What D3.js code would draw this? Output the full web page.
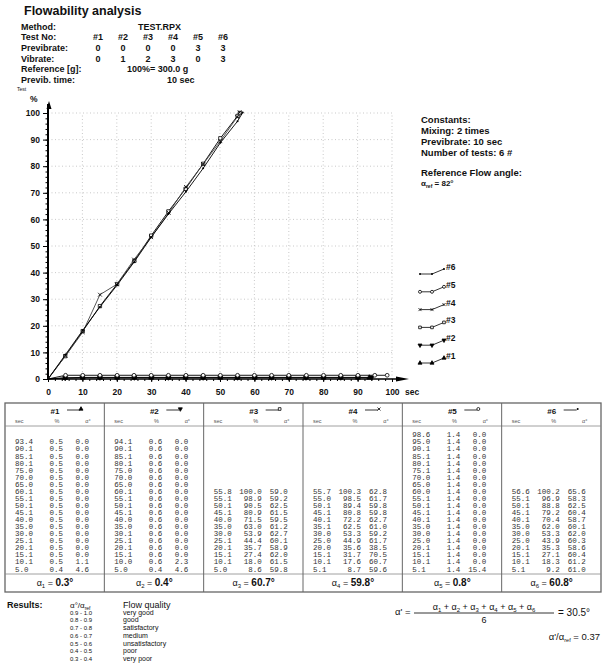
<!DOCTYPE html>
<html>
<head>
<meta charset="utf-8">
<script src="https://cdn.jsdelivr.net/npm/d3@7"></script>
<style>
body { margin: 0; background: #fff; }
svg { display: block; font-family: "Liberation Sans", Arial, sans-serif; }
.mono { font-family: "Liberation Mono", "DejaVu Sans Mono", monospace; }
</style>
</head>
<body>
<svg id="chart" width="603" height="666"></svg>
<script>
(function () {
'use strict';

// header / test setup
var seriesNames = ['#1', '#2', '#3', '#4', '#5', '#6'];
var markerTypes = ['triUp', 'triDown', 'square', 'times', 'circle', 'dot'];
var previbrate = [0, 0, 0, 0, 3, 3];
var vibrate = [0, 1, 2, 3, 0, 3];
var legendOrder = [5, 4, 3, 2, 1, 0];

// measured values, listed as in the print-out table (last time first)
var sec1 = [93.4, 90.1, 85.1, 80.1, 75.0, 70.0, 65.0, 60.1, 55.1, 50.1, 45.1, 40.0, 35.0, 30.0, 25.1, 20.1, 15.1, 10.1, 5.0];
var pct1 = [0.5, 0.5, 0.5, 0.5, 0.5, 0.5, 0.5, 0.5, 0.5, 0.5, 0.5, 0.5, 0.5, 0.5, 0.5, 0.5, 0.5, 0.5, 0.4];
var ang1 = [0.0, 0.0, 0.0, 0.0, 0.0, 0.0, 0.0, 0.0, 0.0, 0.0, 0.0, 0.0, 0.0, 0.0, 0.0, 0.0, 0.0, 1.1, 4.6];

var sec2 = [94.1, 90.1, 85.1, 80.1, 75.0, 70.0, 65.0, 60.1, 55.1, 50.1, 45.1, 40.0, 35.0, 30.1, 25.1, 20.1, 15.1, 10.0, 5.0];
var pct2 = [0.6, 0.6, 0.6, 0.6, 0.6, 0.6, 0.6, 0.6, 0.6, 0.6, 0.6, 0.6, 0.6, 0.6, 0.6, 0.6, 0.6, 0.6, 0.4];
var ang2 = [0.0, 0.0, 0.0, 0.0, 0.0, 0.0, 0.0, 0.0, 0.0, 0.0, 0.0, 0.0, 0.0, 0.0, 0.0, 0.0, 0.0, 2.3, 4.6];

var sec3 = [55.8, 55.1, 50.1, 45.1, 40.0, 35.0, 30.0, 25.1, 20.1, 15.1, 10.1, 5.0];
var pct3 = [100.0, 98.9, 90.5, 80.9, 71.5, 63.0, 53.9, 44.4, 35.7, 27.4, 18.0, 8.6];
var ang3 = [59.0, 59.2, 62.5, 61.5, 59.5, 61.2, 62.7, 60.1, 58.9, 62.0, 61.5, 59.8];

var sec4 = [55.7, 55.0, 50.1, 45.1, 40.1, 35.1, 30.0, 25.0, 20.0, 15.1, 10.1, 5.1];
var pct4 = [100.3, 98.5, 89.4, 80.8, 72.2, 62.5, 53.3, 44.9, 35.6, 31.7, 17.6, 8.7];
var ang4 = [62.8, 61.7, 59.8, 59.8, 62.7, 61.0, 59.2, 61.7, 38.5, 70.5, 60.7, 59.6];

var sec5 = [98.6, 95.0, 90.1, 85.1, 80.1, 75.1, 70.0, 65.0, 60.0, 55.1, 50.1, 45.1, 40.1, 35.0, 30.0, 25.0, 20.1, 15.1, 10.1, 5.1];
var pct5 = [1.4, 1.4, 1.4, 1.4, 1.4, 1.4, 1.4, 1.4, 1.4, 1.4, 1.4, 1.4, 1.4, 1.4, 1.4, 1.4, 1.4, 1.4, 1.4, 1.4];
var ang5 = [0.0, 0.0, 0.0, 0.0, 0.0, 0.0, 0.0, 0.0, 0.0, 0.0, 0.0, 0.0, 0.0, 0.0, 0.0, 0.0, 0.0, 0.0, 0.0, 15.4];

var sec6 = [56.6, 55.1, 50.1, 45.1, 40.1, 35.0, 30.0, 25.0, 20.1, 15.1, 10.1, 5.1];
var pct6 = [100.2, 96.9, 88.8, 79.2, 70.4, 62.0, 53.3, 43.9, 35.3, 27.1, 18.3, 9.2];
var ang6 = [65.6, 58.3, 62.5, 60.4, 58.7, 60.1, 62.0, 60.3, 58.6, 60.4, 61.2, 61.0];

var origin = [0, 0];
var alphas = [0.3, 0.4, 60.7, 59.8, 0.8, 60.8];
var alphaMean = 30.5;
var alphaRef = 82;
var alphaRatio = 0.37;

var qualityRanges = ['0.9 - 1.0', '0.8 - 0.9', '0.7 - 0.8', '0.6 - 0.7', '0.5 - 0.6', '0.4 - 0.5', '0.3 - 0.4'];
var qualityLabels = ['very good', 'good', 'satisfactory', 'medium', 'unsatisfactory', 'poor', 'very poor'];

var secs = [sec1, sec2, sec3, sec4, sec5, sec6];
var pcts = [pct1, pct2, pct3, pct4, pct5, pct6];
var angs = [ang1, ang2, ang3, ang4, ang5, ang6];

var svg = d3.select('#chart');
var fmt = d3.format('.1f');

function label(parent, x, y, str, size, anchor, weight) {
    return parent.append('text')
        .attr('x', x)
        .attr('y', y)
        .attr('font-size', size)
        .attr('text-anchor', anchor || 'start')
        .attr('font-weight', weight || 'normal')
        .attr('fill', '#111')
        .text(str);
}

// alpha with a small subscript, e.g. α1 or αref
function alphaSub(textSel, sub, subSize) {
    textSel.append('tspan').text('α');
    textSel.append('tspan').attr('font-size', subSize).attr('dy', 1.5).text(sub);
    return textSel.append('tspan').attr('dy', -1.5);
}

function drawMarker(parent, type, cx, cy, size) {
    size = size || 14;
    var g = parent.append('g').attr('transform', 'translate(' + cx + ',' + cy + ')');
    if (type === 'dot') {
        g.append('circle').attr('r', 1).attr('fill', '#000');
        return;
    }
    var sym = {
        triUp: d3.symbolTriangle,
        triDown: d3.symbolTriangle,
        square: d3.symbolSquare,
        times: d3.symbolTimes || d3.symbolX,
        circle: d3.symbolCircle
    }[type];
    var open = type === 'square' || type === 'circle' || type === 'times';
    g.append('path')
        .attr('d', d3.symbol(sym, size)())
        .attr('transform', type === 'triDown' ? 'rotate(180)' : null)
        .attr('fill', open ? '#fff' : '#000')
        .attr('stroke', '#000')
        .attr('stroke-width', 0.8);
}

// ---------- header ----------
label(svg, 24, 15, 'Flowability analysis', 12.5, 'start', 'bold');

var headX = d3.scaleLinear().domain([0, 5]).range([98, 223]);
var headY = d3.scaleLinear().domain([0, 5]).range([29.5, 83]);
var headLabels = ['Method:', 'Test No:', 'Previbrate:', 'Vibrate:', 'Reference [g]:', 'Previb. time:'];
headLabels.forEach(function (t, i) { label(svg, 21, headY(i), t, 9, 'start', 'bold'); });
label(svg, 138, headY(0), 'TEST.RPX', 9, 'start', 'bold');
seriesNames.forEach(function (n, i) {
    label(svg, headX(i), headY(1), n, 9, 'middle', 'bold');
    label(svg, headX(i), headY(2), previbrate[i], 9, 'middle', 'bold');
    label(svg, headX(i), headY(3), vibrate[i], 9, 'middle', 'bold');
});
label(svg, 127, headY(4), '100%=  300.0 g', 9, 'start', 'bold');
label(svg, 167, headY(5), '10 sec', 9, 'start', 'bold');

// ---------- chart ----------
var x = d3.scaleLinear().domain([0, 100]).range([48, 392]);
var y = d3.scaleLinear().domain([0, 100]).range([379, 113]);
var plot = svg.append('g');

plot.append('g').selectAll('line.vgrid')
    .data(d3.range(10, 101, 10))
    .enter().append('line')
    .attr('x1', x).attr('x2', x)
    .attr('y1', y(0)).attr('y2', y(100))
    .attr('stroke', '#bbb').attr('stroke-width', 0.8).attr('stroke-dasharray', '1,2.5');
plot.append('g').selectAll('line.hgrid')
    .data(d3.range(10, 101, 10))
    .enter().append('line')
    .attr('x1', x(0)).attr('x2', x(100))
    .attr('y1', y).attr('y2', y)
    .attr('stroke', '#bbb').attr('stroke-width', 0.8).attr('stroke-dasharray', '1,2.5');

// y axis: minor + major ticks
var yMinor = plot.append('g').attr('transform', 'translate(' + x(0) + ',0)')
    .call(d3.axisLeft(y).tickValues(d3.range(0, 101, 2)).tickSize(2.5).tickFormat(''));
var yMajor = plot.append('g').attr('transform', 'translate(' + x(0) + ',0)')
    .call(d3.axisLeft(y).tickValues(d3.range(0, 101, 10)).tickSize(5).tickPadding(3));
var xMinor = plot.append('g').attr('transform', 'translate(0,' + y(0) + ')')
    .call(d3.axisBottom(x).tickValues(d3.range(0, 101, 2)).tickSize(2).tickFormat(''));
var xMajor = plot.append('g').attr('transform', 'translate(0,' + y(0) + ')')
    .call(d3.axisBottom(x).tickValues(d3.range(0, 101, 10)).tickSize(3).tickPadding(7));
[yMinor, yMajor, xMinor, xMajor].forEach(function (a) {
    a.select('.domain').remove();
    a.selectAll('line').attr('stroke', '#000');
    a.selectAll('text').attr('font-size', 8.5).attr('font-weight', 'bold').attr('fill', '#111')
        .attr('font-family', '"Liberation Sans", Arial, sans-serif');
});

plot.append('line').attr('x1', x(0)).attr('x2', x(0)).attr('y1', y(0)).attr('y2', 104)
    .attr('stroke', '#000').attr('stroke-width', 2);
plot.append('path').attr('d', 'M49,101L46.5,109L51.5,109Z').attr('fill', '#000');
plot.append('line').attr('x1', x(0)).attr('x2', 400).attr('y1', y(0)).attr('y2', y(0))
    .attr('stroke', '#000').attr('stroke-width', 1.5);
plot.append('path').attr('d', 'M409,379L396,376.5L396,381.5Z').attr('fill', '#000');
label(svg, 405, 395, 'sec', 8.5, 'start', 'bold');
label(svg, 17, 91, 'Test', 5);
label(svg, 30, 102, '%', 8.5, 'start', 'bold');

var line = d3.line()
    .x(function (d) { return x(d[0]); })
    .y(function (d) { return y(d[1]); });

secs.forEach(function (s, k) {
    var pts = s.map(function (v, j) { return [v, pcts[k][j]]; })
        .sort(function (a, b) { return a[0] - b[0]; });
    plot.append('path')
        .datum([origin].concat(pts))
        .attr('d', line)
        .attr('fill', 'none')
        .attr('stroke', k === 3 ? '#444' : '#000')
        .attr('stroke-width', 0.9);
    pts.forEach(function (p) { drawMarker(plot, markerTypes[k], x(p[0]), y(p[1]), 11); });
});

// legend
var legY = d3.scaleLinear().domain([0, 5]).range([267, 356]);
legendOrder.forEach(function (k, i) {
    var ly = legY(i);
    var pts = [[420, ly + 7], [432, ly + 7], [444, ly + 2]];
    svg.append('path').datum(pts).attr('d', d3.line())
        .attr('fill', 'none').attr('stroke', '#000').attr('stroke-width', 0.8);
    pts.forEach(function (p) { drawMarker(svg, markerTypes[k], p[0], p[1], 7); });
    label(svg, 446, ly + 3, seriesNames[k], 8.5, 'start', 'bold');
});

// constants
label(svg, 421, 122.5, 'Constants:', 9.5, 'start', 'bold');
label(svg, 421, 133.5, 'Mixing:  2 times', 9.5, 'start', 'bold');
label(svg, 421, 144.5, 'Previbrate:  10 sec', 9.5, 'start', 'bold');
label(svg, 421, 155.5, 'Number of tests:  6 #', 9.5, 'start', 'bold');
label(svg, 421, 175.5, 'Reference Flow angle:', 9.5, 'start', 'bold');
var refT = label(svg, 421, 186, '', 8, 'start', 'bold');
alphaSub(refT, 'ref', 5).text(' = ' + alphaRef + '°');

// ---------- table ----------
var colX = d3.scaleLinear().domain([0, 6]).range([5, 601]);
var rowY = d3.scaleLinear().domain([0, 19]).range([569, 569 - 19 * 7.06]);
var table = svg.append('g');
var tTop = 403, tSub = 426, tAlpha = 574, tBottom = 592;

table.append('rect').attr('x', colX(0)).attr('y', tTop)
    .attr('width', colX(6) - colX(0)).attr('height', tBottom - tTop)
    .attr('fill', 'none').attr('stroke', '#666').attr('stroke-width', 1.3);
[tSub, tAlpha].forEach(function (ly) {
    table.append('line').attr('x1', colX(0)).attr('x2', colX(6)).attr('y1', ly).attr('y2', ly)
        .attr('stroke', '#888').attr('stroke-width', 0.8);
});
d3.range(1, 6).forEach(function (c) {
    table.append('line').attr('x1', colX(c)).attr('x2', colX(c)).attr('y1', tTop).attr('y2', tBottom)
        .attr('stroke', '#666').attr('stroke-width', 1);
});

seriesNames.forEach(function (n, k) {
    var x0 = colX(k);
    label(table, x0 + 50, 414, n, 8, 'middle', 'bold');
    table.append('line').attr('x1', x0 + 62).attr('x2', x0 + 75).attr('y1', 410).attr('y2', 410)
        .attr('stroke', '#000').attr('stroke-width', 0.8);
    drawMarker(table, markerTypes[k], x0 + 76, 409, 7);

    label(table, x0 + 10, 423, 'sec', 5.5).attr('fill', '#555');
    label(table, x0 + 52, 423, '%', 5.5, 'middle').attr('fill', '#555');
    label(table, x0 + 83, 423, 'α°', 5.5, 'middle').attr('fill', '#555');

    var n0 = secs[k].length;
    secs[k].forEach(function (s, j) {
        var ry = rowY(n0 - 1 - j) + 2.5;
        label(table, x0 + 10, ry, fmt(s), 7.5).attr('class', 'mono').attr('fill', '#333');
        label(table, x0 + 58, ry, fmt(pcts[k][j]), 7.5, 'end').attr('class', 'mono').attr('fill', '#333');
        label(table, x0 + 84, ry, fmt(angs[k][j]), 7.5, 'end').attr('class', 'mono').attr('fill', '#333');
    });

    var at = label(table, x0 + 50, 586, '', 9, 'middle');
    alphaSub(at, String(k + 1), 6).text(' =  ');
    at.append('tspan').attr('font-size', 10).attr('font-weight', 'bold').text(fmt(alphas[k]) + '°');
});

// ---------- results ----------
label(svg, 7, 608, 'Results:', 9, 'start', 'bold');
var rh = label(svg, 70, 608, '', 8);
rh.append('tspan').text('α°/');
alphaSub(rh, 'ref', 5);
label(svg, 123, 608, 'Flow quality', 9);
var qY = d3.scaleLinear().domain([0, 6]).range([614.5, 661]);
qualityRanges.forEach(function (r, i) {
    label(svg, 70, qY(i), r, 6);
    label(svg, 123, qY(i), qualityLabels[i], 7);
});

label(svg, 395, 615, "α' =", 9.5);
var num = label(svg, 484, 610, '', 9, 'middle');
d3.range(1, 7).forEach(function (i) {
    alphaSub(num, String(i), 6).text(i < 6 ? ' + ' : '');
});
svg.append('line').attr('x1', 414).attr('x2', 554).attr('y1', 613).attr('y2', 613)
    .attr('stroke', '#000').attr('stroke-width', 0.8);
label(svg, 484, 622.5, '6', 9, 'middle');
label(svg, 558, 616, '=  ' + fmt(alphaMean) + '°', 10);

var ratioT = label(svg, 600, 640, '', 9.5, 'end');
ratioT.append('tspan').text("α'/");
alphaSub(ratioT, 'ref', 5.5).text(' =  ' + alphaRatio);
})();
</script>
</body>
</html>
